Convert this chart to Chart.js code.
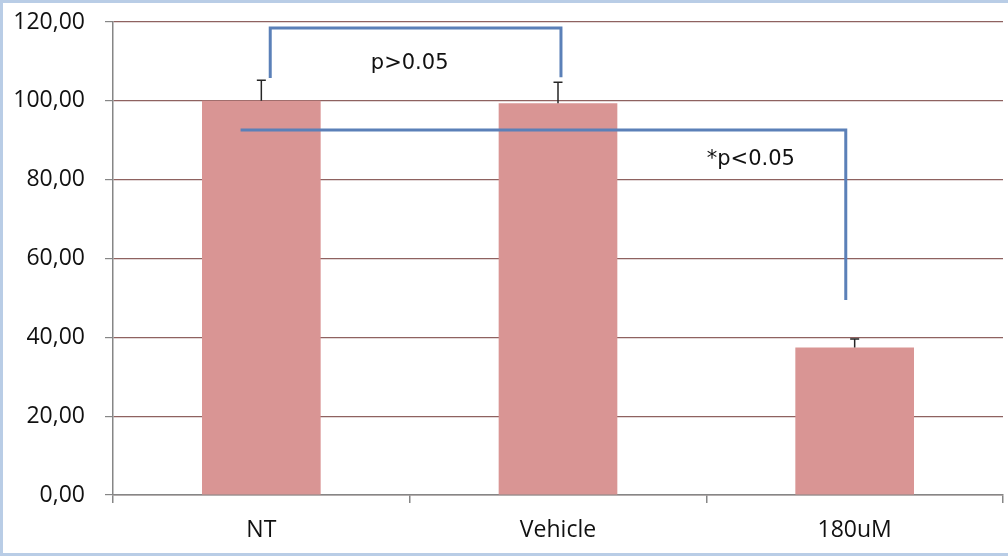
<!DOCTYPE html>
<html>
<head>
<meta charset="utf-8">
<script src="https://cdn.jsdelivr.net/npm/chart.js@4"></script>
<style>
  html, body { margin: 0; padding: 0; background: #fff; }
  #wrap { position: relative; width: 1008px; height: 558px; overflow: hidden; }
  #frame { position: absolute; left: 0; top: 0; width: 1010px; height: 550px; border: 3px solid #b9cde6; pointer-events: none; }
  canvas { position: absolute; left: 0; top: 0; }
</style>
</head>
<body>
<div id="wrap">
  <canvas id="chart" width="1008" height="558"></canvas>
  <div id="frame"></div>
</div>
<script>
// data
const categories = ['NT', 'Vehicle', '180uM'];
const means = [100.0, 99.4, 37.4];
const errors = [5.2, 5.3, 2.2];
const yTicks = [0, 20, 40, 60, 80, 100, 120];

// significance brackets: [xFrom, xTo] in category units, y levels in data units
const bracketNear = { x: [0.03, 1.01], yTop: 118.5, yEnds: [105.8, 106.0], label: 'p>0.05', labelAt: [0.5, 109.5] };
const bracketFar = { x: [-0.07, 1.97], yTop: 92.6, yEnds: [92.6, 49.5], label: '*p<0.05', labelAt: [1.65, 85.0] };

const annotations = {
    id: 'annotations',
    afterDatasetsDraw(chart) {
        const ctx = chart.ctx;
        const x = chart.scales.x;
        const y = chart.scales.y;

        // error bars (upper only)
        ctx.save();
        ctx.strokeStyle = '#262626';
        ctx.lineWidth = 1.5;
        means.forEach((m, i) => {
            const px = x.getPixelForValue(i);
            const top = y.getPixelForValue(m + errors[i]);
            ctx.beginPath();
            ctx.moveTo(px, y.getPixelForValue(m));
            ctx.lineTo(px, top);
            ctx.moveTo(px - 4.5, top);
            ctx.lineTo(px + 4.5, top);
            ctx.stroke();
        });
        ctx.restore();

        // brackets
        ctx.save();
        ctx.strokeStyle = '#5b80b8';
        ctx.lineWidth = 3;
        [bracketNear, bracketFar].forEach(b => {
            const x0 = x.getPixelForValue(b.x[0]);
            const x1 = x.getPixelForValue(b.x[1]);
            const yt = y.getPixelForValue(b.yTop);
            ctx.beginPath();
            ctx.moveTo(x0, y.getPixelForValue(b.yEnds[0]));
            ctx.lineTo(x0, yt);
            ctx.lineTo(x1, yt);
            ctx.lineTo(x1, y.getPixelForValue(b.yEnds[1]));
            ctx.stroke();
        });
        ctx.restore();

        // labels
        ctx.save();
        ctx.fillStyle = '#111';
        ctx.font = '21px "DejaVu Sans"';
        ctx.textAlign = 'center';
        ctx.textBaseline = 'middle';
        [bracketNear, bracketFar].forEach(b => {
            ctx.fillText(b.label, x.getPixelForValue(b.labelAt[0]), y.getPixelForValue(b.labelAt[1]));
        });
        ctx.restore();
    }
};

new Chart(document.getElementById('chart'), {
    type: 'bar',
    data: {
        labels: categories,
        datasets: [{
            data: means,
            backgroundColor: '#d99594',
            barPercentage: 0.4,
            categoryPercentage: 1.0
        }]
    },
    options: {
        responsive: false,
        animation: false,
        layout: { padding: { top: 22, right: 5, left: 0, bottom: 0 } },
        plugins: { legend: { display: false }, tooltip: { enabled: false } },
        scales: {
            x: {
                grid: { drawOnChartArea: false, offset: true, tickLength: 8, tickColor: '#868686', lineWidth: 1.5 },
                border: { color: '#868686', width: 1.5 },
                ticks: { color: '#111', font: { family: 'Open Sans', size: 23 }, padding: 14 },
                afterFit(s) { s.height = 63; s.paddingLeft = 0; s.paddingRight = 0; }
            },
            y: {
                min: 0,
                max: 120,
                afterBuildTicks(s) { s.ticks = yTicks.map(v => ({ value: v })); },
                grid: { color: '#8e6260', lineWidth: 1.2, tickLength: 8, tickColor: '#868686' },
                border: { color: '#868686', width: 1.5 },
                ticks: {
                    color: '#111',
                    font: { family: 'Open Sans', size: 23 },
                    padding: 20,
                    callback: v => v.toFixed(2).replace('.', ',')
                },
                afterFit(s) { s.width = 113; s.paddingTop = 0; s.paddingBottom = 0; }
            }
        }
    },
    plugins: [annotations]
});
</script>
</body>
</html>
